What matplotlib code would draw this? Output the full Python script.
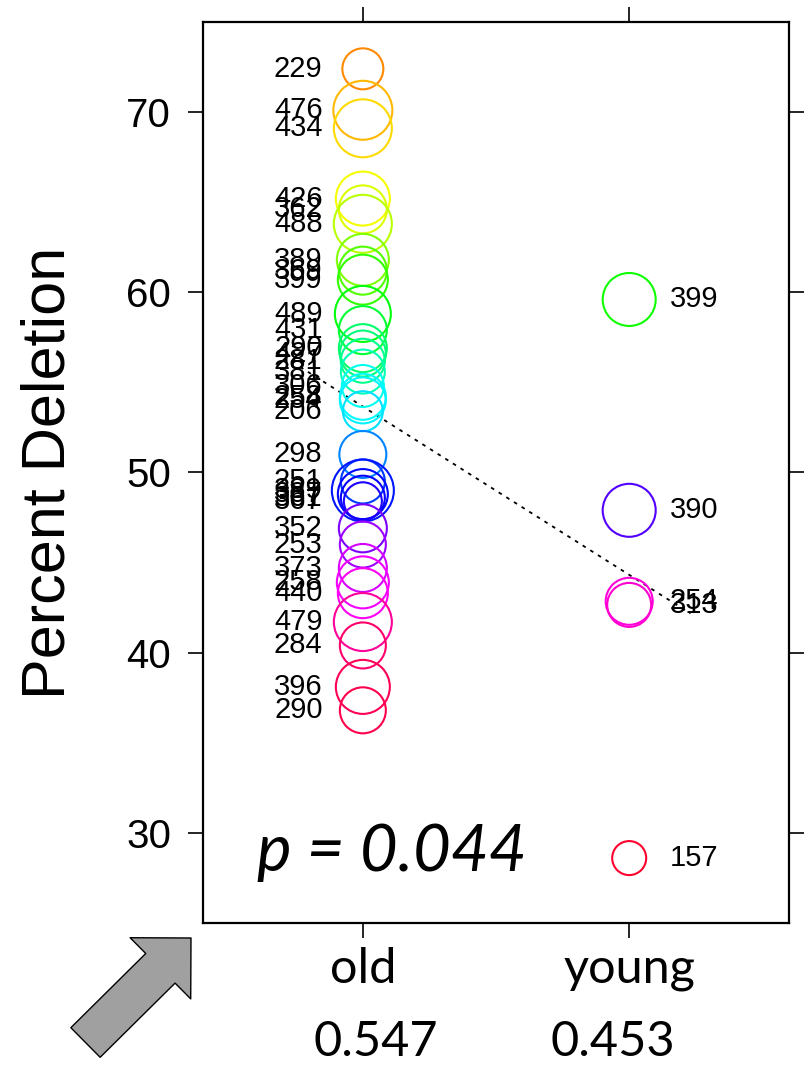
import colorsys
import numpy as np
import matplotlib
matplotlib.use("Agg")
import matplotlib.pyplot as plt
from matplotlib.patches import FancyArrowPatch

# --- data ---
groups = ["old", "young"]
group_share = [0.547, 0.453]
p_value = 0.044

old_ids = [229, 476, 434, 426, 362, 488, 389, 369, 399, 489, 431, 290, 427, 281,
           381, 306, 258, 254, 206, 298, 251, 389, 387, 361, 367, 352, 253, 373,
           258, 440, 479, 284, 396, 290]
old_pct = [72.4, 70.1, 69.1, 65.2, 64.6, 63.8, 61.8, 61.2, 60.7, 58.8, 57.9, 56.9,
           56.6, 56.2, 55.6, 54.8, 54.2, 54.0, 53.4, 51.0, 49.5, 49.0, 48.8, 48.6,
           48.4, 46.9, 46.0, 44.7, 43.9, 43.3, 41.7, 40.4, 38.1, 36.8]
old_weight = [41, 59, 58, 54, 48, 58, 52, 48, 50, 56, 48, 48, 46, 44, 44, 42, 46,
              46, 40, 47, 44, 62, 50, 44, 38, 48, 46, 48, 52, 50, 58, 46, 54, 46]

young_ids = [399, 390, 254, 313, 157]
young_pct = [59.6, 47.9, 42.85, 42.65, 28.6]
young_weight = [53, 53, 47, 44, 34]

# colour ramp (value -> hue), like a rainbow palette
ramp_vals = [28.6, 36.8, 40.4, 41.7, 43.3, 44.6, 46.0, 47.9, 48.6, 49.5, 51.0, 53.4,
             54.8, 56.1, 57.8, 58.8, 60.8, 61.8, 63.9, 65.3, 69.0, 70.1, 72.4]
ramp_hues = [0.97, 0.95, 0.93, 0.90, 0.84, 0.81, 0.77, 0.72, 0.67, 0.63, 0.58, 0.52,
             0.49, 0.43, 0.37, 0.34, 0.30, 0.25, 0.21, 0.17, 0.145, 0.12, 0.09]


def hue_color(v):
    h = np.interp(v, ramp_vals, ramp_hues)
    return colorsys.hsv_to_rgb(h, 1.0, 1.0)


DPI = 100
fig = plt.figure(figsize=(8.07, 10.67), dpi=DPI)
ax = fig.add_axes([0.2516, 0.1350, 0.9777 - 0.2516, 0.9794 - 0.1350])

px2pt = 72.0 / DPI
series = [(1, old_ids, old_pct, old_weight, -29, "right"),
          (2, young_ids, young_pct, young_weight, 29, "left")]

for xpos, ids, pct, w, dx, ha in series:
    xs = np.full(len(pct), xpos, dtype=float)
    cols = [hue_color(v) for v in pct]
    ax.scatter(xs, pct, s=(np.array(w) * px2pt) ** 2, facecolors="none",
               edgecolors=cols, linewidths=1.5, zorder=3)
    for i, v in zip(ids, pct):
        ax.annotate(str(i), xy=(xpos, v), xytext=(dx, 0), textcoords="offset points",
                    ha=ha, va="center", fontsize=21, family="Liberation Sans")

# dotted line through group means
m_old, m_young = np.mean(old_pct), np.mean(young_pct)
slope = m_young - m_old
xl = np.array([0.765, 2.23])
ax.plot(xl, m_old + slope * (xl - 1), ls=(0, (2, 3)), color="black", lw=1.3, zorder=2)

ax.text(1.11, 27.9, f"p = {p_value:.3f}", ha="center", va="baseline",
        fontsize=47, style="italic", family="Lato")

ax.set_xlim(0.4, 2.6)
ax.set_ylim(25, 75)
ax.set_yticks([30, 40, 50, 60, 70])
ax.set_xticks([1, 2])
ax.set_xticklabels(groups, family="Lato", fontsize=35)
for lab in ax.get_yticklabels():
    lab.set_family("Liberation Sans")
    lab.set_fontsize(29)
ax.tick_params(axis="both", direction="out", length=11, width=1.2,
               top=True, right=True, labeltop=False, labelright=False)
ax.tick_params(axis="y", pad=12)
ax.tick_params(axis="x", pad=6)
for sp in ax.spines.values():
    sp.set_linewidth(1.6)

ax.set_ylabel("Percent Deletion", fontsize=44, family="Liberation Sans")
ax.yaxis.set_label_coords(-0.215, 0.5)

for g, share, dx in zip([1, 2], group_share, [9, -12]):
    ax.annotate(f"{share:.3f}", xy=(g, 0), xycoords=("data", "axes fraction"),
                xytext=(dx, -86), textcoords="offset points", ha="center",
                va="center", fontsize=35, family="Lato", annotation_clip=False)

# grey block arrow in the lower-left corner
arrow = FancyArrowPatch((85.5 / 807, 1 - 1042.5 / 1067), (191 / 807, 1 - 938 / 1067),
                        transform=fig.transFigure,
                        arrowstyle="simple,head_length=31,head_width=62,tail_width=30",
                        mutation_scale=1, facecolor="#a0a0a0", edgecolor="black",
                        linewidth=1, shrinkA=0, shrinkB=0)
fig.patches.append(arrow)

fig.savefig("out.png", dpi=DPI)
